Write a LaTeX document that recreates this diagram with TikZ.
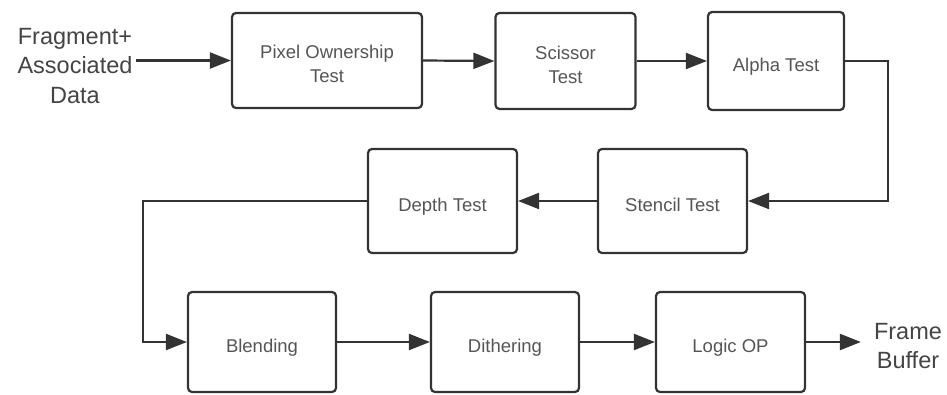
\documentclass[tikz,border=0pt]{standalone}
\usepackage{fontspec}
\setmainfont{Liberation Sans}
\usetikzlibrary{arrows.meta,calc}
\definecolor{linec}{HTML}{333333}
\definecolor{boxtext}{HTML}{555555}
\definecolor{outtext}{HTML}{444444}
\newcommand\stagetxt[1]{\raisebox{0pt}[\dimexpr\height+10.8pt\relax][\depth]{\begin{tabular}{@{}c@{}}#1\end{tabular}}}
\begin{document}
\begin{tikzpicture}[x=1pt,y=-1pt,
  stagebox/.style={draw=linec,line width=2.2pt,rounded corners=4pt,fill=white,
    text=boxtext,font=\fontsize{18.5}{24}\selectfont,inner sep=0pt},
  outlabel/.style={text=outtext,font=\fontsize{23.5}{29.5}\selectfont,align=center},
  arr/.style={draw=linec,line width=2.2pt,-{Triangle[length=21pt,width=16pt]}}]
\useasboundingbox (0,0) rectangle (947,394);
% top row
\node[outlabel,inner sep=3pt] (frag) at (75,66) {Fragment+\\Associated\\Data};
\node[stagebox,minimum width=190pt,minimum height=95pt] (pix) at (327,60.5) {\stagetxt{Pixel Ownership\\Test}};
\node[stagebox,minimum width=140pt,minimum height=96pt] (sci) at (565.5,61) {\stagetxt{Scissor\\Test}};
\node[stagebox,minimum width=136pt,minimum height=98pt] (alp) at (776,61) {\stagetxt{Alpha Test}};
% middle row
\node[stagebox,minimum width=149pt,minimum height=104pt] (ste) at (672.5,201) {\stagetxt{Stencil Test}};
\node[stagebox,minimum width=149pt,minimum height=104pt] (dep) at (442.5,201) {\stagetxt{Depth Test}};
% bottom row
\node[stagebox,minimum width=148pt,minimum height=100pt] (ble) at (262,342) {\stagetxt{Blending}};
\node[stagebox,minimum width=148pt,minimum height=100pt] (dit) at (505,342) {\stagetxt{Dithering}};
\node[stagebox,minimum width=149pt,minimum height=100pt] (log) at (730.5,342) {\stagetxt{Logic OP}};
\node[outlabel,inner xsep=13pt,inner ysep=2pt] (fb) at (908,346) {Frame\\Buffer};
% turning points
\coordinate (r1) at (888,201);
\coordinate (l1) at (143,342);
% connectors
\draw[arr] (frag.east |- pix.west) -- (pix.west);
\draw[arr] (pix.east) -- (sci.west);
\draw[arr] (sci.east) -- (alp.west);
\draw[arr] (alp.east) -| (r1) -- (ste.east);
\draw[arr] (ste.west) -- (dep.east);
\draw[arr] (dep.west) -| (l1) -- (ble.west);
\draw[arr] (ble.east) -- (dit.west);
\draw[arr] (dit.east) -- (log.west);
\draw[arr] (log.east) -- (fb.west |- log.east);
\end{tikzpicture}
\end{document}
